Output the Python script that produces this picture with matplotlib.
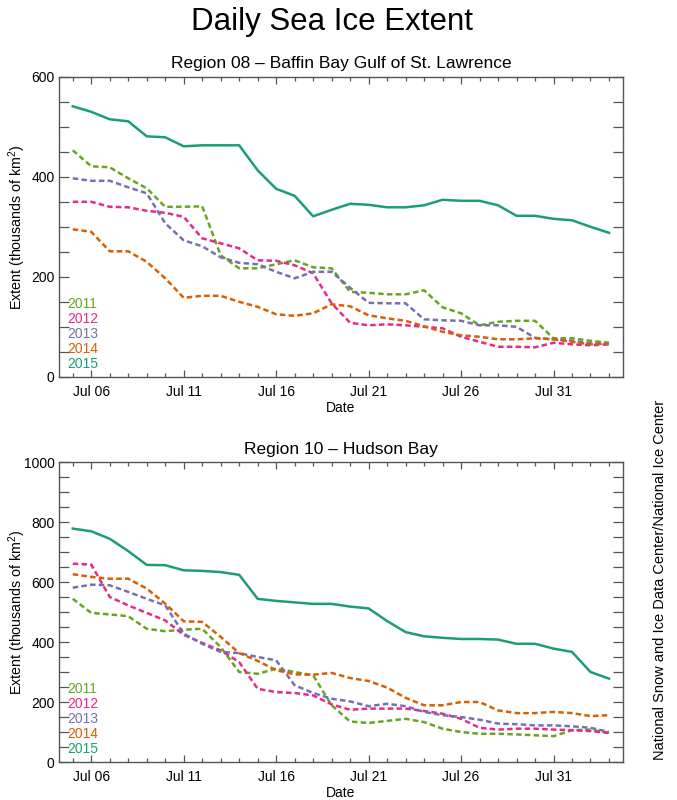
import numpy as np
import pandas as pd
import matplotlib
matplotlib.use("Agg")
import matplotlib.pyplot as plt
import matplotlib.dates as mdates

plt.rcParams['font.family'] = ['Liberation Sans', 'DejaVu Sans']
plt.rcParams['mathtext.fontset'] = 'custom'
plt.rcParams['mathtext.rm'] = 'Liberation Sans'
plt.rcParams['mathtext.it'] = 'Liberation Sans'

# ---------------------------------------------------
# Datos (miles de km2), 5 jul - 3 ago
# ---------------------------------------------------
fechas = pd.date_range("2015-07-05", periods=30, freq="D")
anios = ["2011", "2012", "2013", "2014", "2015"]
colores = ["#66a61e", "#e7298a", "#7570b3", "#d95f02", "#1b9e77"]

baffin_2011 = [453, 421, 419, 397, 377, 340, 340, 341, 243, 217, 217, 225, 233, 219, 217, 170,
               168, 165, 165, 173, 139, 127, 103, 110, 112, 112, 77, 77, 72, 68]
baffin_2012 = [350, 350, 340, 339, 332, 328, 320, 277, 267, 257, 233, 232, 223, 207, 147, 108,
               103, 105, 103, 100, 97, 80, 70, 60, 60, 59, 68, 65, 63, 65]
baffin_2013 = [397, 392, 392, 379, 367, 307, 273, 261, 239, 228, 225, 210, 197, 210, 210, 178,
               148, 147, 147, 115, 113, 112, 103, 103, 100, 78, 75, 72, 67, 65]
baffin_2014 = [295, 290, 251, 251, 230, 197, 158, 162, 162, 150, 140, 125, 122, 127, 145, 141,
               123, 117, 112, 101, 90, 83, 80, 75, 75, 77, 75, 70, 65, 67]
baffin_2015 = [541, 530, 515, 511, 481, 479, 461, 463, 463, 463, 413, 376, 362, 321, 334, 346,
               344, 339, 339, 343, 354, 352, 352, 343, 322, 322, 316, 313, 300, 288]

hudson_2011 = [544, 497, 492, 486, 444, 436, 441, 444, 383, 300, 294, 311, 300, 289, 189, 135,
               130, 137, 144, 133, 111, 100, 94, 94, 92, 89, 86, 106, 108, 97]
hudson_2012 = [661, 658, 550, 522, 497, 472, 424, 397, 372, 333, 244, 233, 230, 222, 192, 174,
               178, 178, 178, 170, 161, 144, 114, 108, 111, 111, 108, 106, 103, 97]
hudson_2013 = [581, 591, 589, 567, 544, 522, 428, 394, 367, 363, 350, 339, 256, 230, 211, 202,
               186, 194, 186, 167, 156, 150, 141, 128, 126, 122, 122, 119, 114, 100]
hudson_2014 = [626, 617, 611, 611, 578, 528, 469, 467, 417, 363, 337, 306, 292, 291, 297, 280,
               270, 248, 214, 189, 189, 200, 200, 172, 163, 163, 167, 163, 153, 156]
hudson_2015 = [778, 769, 744, 703, 657, 656, 639, 637, 633, 624, 544, 537, 532, 527, 527, 518,
               512, 470, 433, 419, 414, 410, 410, 408, 394, 394, 378, 367, 300, 278]

regiones = [
    ("Region 08 \u2013 Baffin Bay Gulf of St. Lawrence",
     [baffin_2011, baffin_2012, baffin_2013, baffin_2014, baffin_2015], 600),
    ("Region 10 \u2013 Hudson Bay",
     [hudson_2011, hudson_2012, hudson_2013, hudson_2014, hudson_2015], 1000),
]

# ---------------------------------------------------
# Figura
# ---------------------------------------------------
fig = plt.figure(figsize=(6.77, 8.0), dpi=100)
fig.text(0.490, 0.972, "Daily Sea Ice Extent", ha="center", va="center", fontsize=22.5)
fig.text(0.975, 0.275, "National Snow and Ice Data Center/National Ice Center",
         rotation=90, ha="center", va="center", fontsize=10.5)

posiciones = [[0.087, 0.529, 0.833, 0.375], [0.087, 0.0475, 0.833, 0.375]]
gris = "#555555"

for pos, (titulo, series, ymax) in zip(posiciones, regiones):
    ax = fig.add_axes(pos)
    for anio, col, vals in zip(anios, colores, series):
        estilo = "-" if anio == "2015" else (0, (2.2, 1.3))
        ax.plot(fechas, vals, color=col, lw=1.8, linestyle=estilo)

    ax.set_xlim(pd.Timestamp("2015-07-04 06:00"), pd.Timestamp("2015-08-03 18:00"))
    ax.set_ylim(0, ymax)
    ax.xaxis.set_major_locator(mdates.DayLocator(bymonthday=[6, 11, 16, 21, 26, 31]))
    ax.xaxis.set_major_formatter(mdates.DateFormatter("%b %d"))
    ax.xaxis.set_minor_locator(mdates.DayLocator())
    ax.yaxis.set_major_locator(plt.MultipleLocator(200))
    ax.yaxis.set_minor_locator(plt.MultipleLocator(50))

    ax.tick_params(axis="both", which="both", direction="in", top=True, right=True,
                   color=gris, labelsize=10, width=0.9)
    ax.tick_params(axis="x", which="major", length=5, pad=6)
    ax.tick_params(axis="x", which="minor", length=3)
    ax.tick_params(axis="y", which="both", length=7, pad=3)
    for s in ax.spines.values():
        s.set_color(gris)
        s.set_linewidth(1.0)

    ax.set_title(titulo, fontsize=12.5, pad=6)
    ax.set_xlabel("Date", fontsize=10, labelpad=1)
    ax.set_ylabel(r"Extent (thousands of km$^2$)", fontsize=10.3)
    ax.yaxis.set_label_coords(-0.054, 0.5)

    for i, (anio, col) in enumerate(zip(anios, colores)):
        ax.text(0.014, 0.243 - i * 0.05, anio, color=col, fontsize=10,
                transform=ax.transAxes, ha="left", va="center")

fig.savefig("out.png", dpi=100)
